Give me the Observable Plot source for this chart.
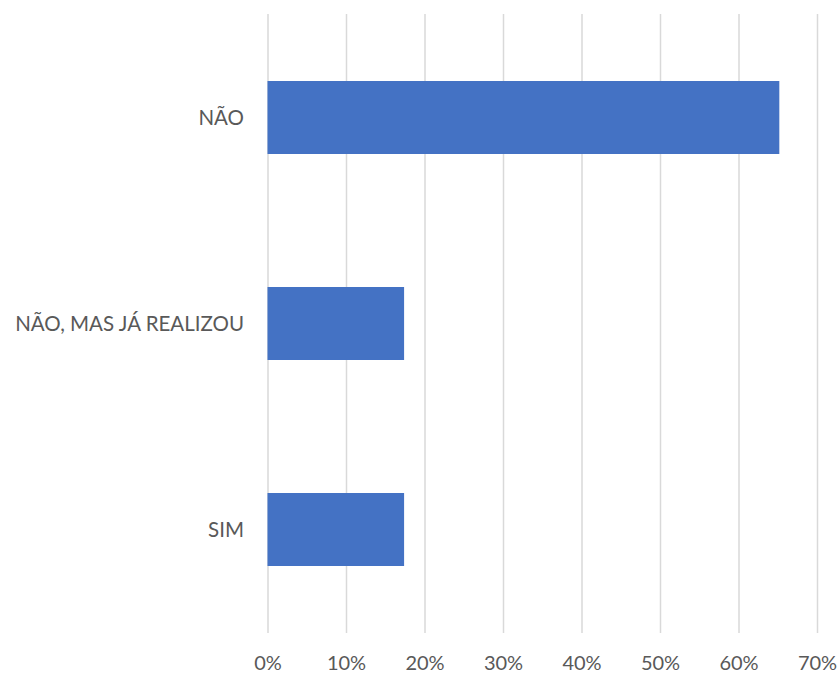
<!DOCTYPE html>
<html>
<head>
<meta charset="utf-8">
<script src="https://cdn.jsdelivr.net/npm/d3@7"></script>
<script src="https://cdn.jsdelivr.net/npm/@observablehq/plot@0.6"></script>
<style>
  html, body { margin: 0; padding: 0; background: #fff; }
  #chart svg { display: block; }
</style>
</head>
<body>
<div id="chart"></div>
<script>
const categories = ["NÃO", "NÃO, MAS JÁ REALIZOU", "SIM"];
const values = [0.652, 0.174, 0.174];
const xTicks = [0, 0.1, 0.2, 0.3, 0.4, 0.5, 0.6, 0.7];

const data = categories.map((c, i) => ({category: c, value: values[i]}));
const fmt = d => Math.round(d * 100) + "%";

const chart = Plot.plot({
  width: 840,
  height: 674,
  marginLeft: 267.5,
  marginRight: 23,
  marginTop: 14,
  marginBottom: 41,
  style: {fontFamily: "Lato, 'Open Sans', sans-serif", fontSize: "20px", color: "#595959", background: "#fff"},
  x: {domain: [0, 0.7], ticks: xTicks, tickFormat: fmt, label: null},
  y: {domain: categories, paddingInner: 0.646, paddingOuter: 0.323, label: null},
  marks: [
    Plot.gridX(xTicks, {stroke: "#d9d9d9", strokeOpacity: 1, strokeWidth: 1.5}),
    Plot.barX(data, {x: "value", y: "category", fill: "#4472c4"}),
    Plot.axisX({ticks: xTicks, tickFormat: fmt, tickSize: 0, tickPadding: 22, fontSize: 20, fill: "#595959"}),
    Plot.axisY({tickSize: 0, tickPadding: 24, fontSize: 20.5, fill: "#595959"})
  ]
});
document.getElementById("chart").appendChild(chart);
</script>
</body>
</html>
